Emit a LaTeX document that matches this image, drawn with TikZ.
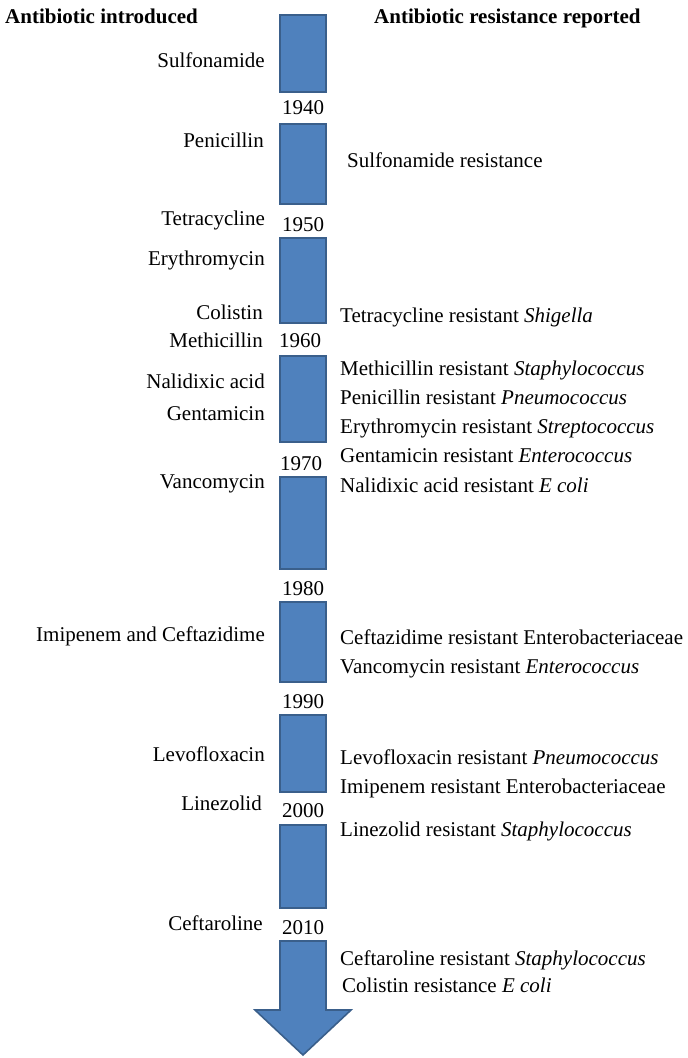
\documentclass[tikz,border=0pt]{standalone}
\usepackage{fontspec}
\setmainfont{Liberation Serif}
\begin{document}
\begin{tikzpicture}[x=1pt,y=-1pt,
  bar/.style={fill=barblue,draw=baredge,line width=1.6pt},
  lab/.style={inner sep=0pt,font=\fontsize{21}{25}\selectfont},
  intro/.style={lab,anchor=base east},
  resist/.style={lab,anchor=base west},
  year/.style={lab,anchor=base,fill=white},
  head/.style={lab,anchor=base west,font=\fontsize{21}{25}\selectfont\bfseries}]
\definecolor{barblue}{HTML}{4F81BD}
\definecolor{baredge}{HTML}{3A5F8B}
\useasboundingbox (0,0) rectangle (688,1058);

% decade bars
\foreach \a/\b in {15/92,124/204,238/323,356/442,477/569,602/682,715/792,825/908}
  \draw[bar] (280,\a) rectangle (326,\b);
% final arrow
\draw[bar,line join=miter] (280,941) -- (326,941) -- (326,1010) -- (351,1010)
  -- (303,1055) -- (255,1010) -- (280,1010) -- cycle;

% column headings
\node[head] (hl) at (5,23) {Antibiotic introduced};
\node[head] (hr) at (374,23) {Antibiotic resistance reported};

% years
\node[year] (y40) at (303,114) {1940};
\node[year] (y50) at (303,231) {1950};
\node[year] (y60) at (300,347) {1960};
\node[year] (y70) at (301,470) {1970};
\node[year] (y80) at (303,595) {1980};
\node[year] (y90) at (303,708) {1990};
\node[year] (y00) at (303,817) {2000};
\node[year] (y10) at (303,934) {2010};

% antibiotics introduced
\node[intro] (a1) at (265,67) {Sulfonamide};
\node[intro] (a2) at (264,147) {Penicillin};
\node[intro] (a3) at (265,225) {Tetracycline};
\node[intro] (a4) at (265,265) {Erythromycin};
\node[intro] (a5) at (263,319) {Colistin};
\node[intro] (a6) at (263,347) {Methicillin};
\node[intro] (a7) at (265,388) {Nalidixic acid};
\node[intro] (a8) at (265,420) {Gentamicin};
\node[intro] (a9) at (265,488) {Vancomycin};
\node[intro] (a10) at (265,641) {Imipenem and Ceftazidime};
\node[intro] (a11) at (265,761) {Levofloxacin};
\node[intro] (a12) at (262,810) {Linezolid};
\node[intro] (a13) at (263,930) {Ceftaroline};

% resistance reported
\node[resist] (r1) at (347,167) {Sulfonamide resistance};
\node[resist] (r2) at (340,322) {Tetracycline resistant \textit{Shigella}};
\node[resist] (r3) at (340,375) {Methicillin resistant \textit{Staphylococcus}};
\node[resist] (r4) at (340,404) {Penicillin resistant \textit{Pneumococcus}};
\node[resist] (r5) at (340,433) {Erythromycin resistant \textit{Streptococcus}};
\node[resist] (r6) at (340,462) {Gentamicin resistant \textit{Enterococcus}};
\node[resist] (r7) at (340,492) {Nalidixic acid resistant \textit{E coli}};
\node[resist] (r8) at (340,644) {Ceftazidime resistant Enterobacteriaceae};
\node[resist] (r9) at (340,673) {Vancomycin resistant \textit{Enterococcus}};
\node[resist] (r10) at (340,764) {Levofloxacin resistant \textit{Pneumococcus}};
\node[resist] (r11) at (340,793) {Imipenem resistant Enterobacteriaceae};
\node[resist] (r12) at (340,836) {Linezolid resistant \textit{Staphylococcus}};
\node[resist] (r13) at (340,965) {Ceftaroline resistant \textit{Staphylococcus}};
\node[resist] (r14) at (342,992) {Colistin resistance \textit{E coli}};
\end{tikzpicture}
\end{document}
